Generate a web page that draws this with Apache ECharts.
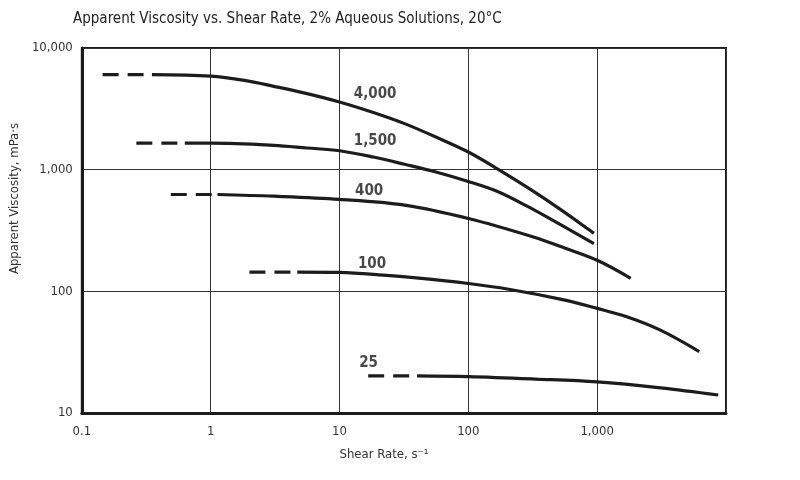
<!DOCTYPE html>
<html>
<head>
<meta charset="utf-8">
<script src="https://cdn.jsdelivr.net/npm/echarts@6/dist/echarts.min.js"></script>
<style>
    html, body { margin: 0; padding: 0; background: #fff; }
    #chart { width: 800px; height: 480px; }
</style>
</head>
<body>
<div id="chart"></div>
<script>
    // grades (mPa·s at 2%), with the dashed lead-in drawn flat up to the solid curve
    var grades = ['4,000', '1,500', '400', '100', '25'];
    var leadStart = [0.145, 0.265, 0.49, 2.0, 16.7];
    var leadLevel = [6050, 1650, 625, 144, 20.2];

    // solid curves: shear rate (s-1) / apparent viscosity (mPa·s)
    var rate4000 = [0.35, 1, 1.83, 3.1, 5.6, 10, 18.3, 32, 56, 100, 172, 310, 528, 944];
    var visc4000 = [6050, 5870, 5420, 4840, 4220, 3600, 2950, 2390, 1855, 1396, 1000, 678, 465, 300];
    var rate1500 = [0.63, 1, 3.1, 5.6, 10, 18.3, 32, 56, 100, 172, 293, 528, 944];
    var visc1500 = [1650, 1650, 1585, 1507, 1430, 1270, 1107, 957, 800, 656, 494, 350, 247];
    var rate400 = [1.13, 3.1, 10, 32, 100, 320, 528, 1000, 1820];
    var visc400 = [625, 605, 570, 511, 397, 280, 232, 180, 128];
    var rate100 = [4.7, 10, 21.8, 39.4, 100, 206, 528, 1000, 1720, 3100, 6200];
    var visc100 = [144, 143, 136, 129, 116, 104, 85.8, 72.4, 61.6, 48, 32];
    var rate25 = [40, 100, 330, 1000, 3100, 8710];
    var visc25 = [20.2, 19.9, 19.0, 18.0, 16.1, 14.05];

    // where the grade labels sit
    var labelRate = [18.9, 18.9, 17, 17.9, 16.8];
    var labelVisc = [4160, 1710, 665, 167, 25.5];

    var xTicks = { 0.1: '0.1', 1: '1', 10: '10', 100: '100', 1000: '1,000' };
    var yTicks = { 10: '10', 100: '100', 1000: '1,000', 10000: '10,000' };

    var FONT = "'Liberation Sans Narrow', 'DejaVu Sans Condensed', sans-serif";
    var INK = '#1c1c1c';

    var zip = function (xs, ys) {
        return xs.map(function (x, i) { return [x, ys[i]]; });
    };

    var curves = [
        zip(rate4000, visc4000),
        zip(rate1500, visc1500),
        zip(rate400, visc400),
        zip(rate100, visc100),
        zip(rate25, visc25)
    ];

    var series = [];
    curves.forEach(function (pts, i) {
        series.push({
            name: grades[i] + ' lead',
            type: 'line',
            data: [[leadStart[i], leadLevel[i]], [pts[0][0], leadLevel[i]]],
            symbol: 'none',
            silent: true,
            lineStyle: { color: INK, width: 3.2, type: [16, 9] }
        });
        series.push({
            name: grades[i],
            type: 'line',
            data: pts,
            smooth: 0.35,
            symbol: 'none',
            silent: true,
            lineStyle: { color: INK, width: 3.2 }
        });
    });

    series.push({
        type: 'scatter',
        symbolSize: 0,
        silent: true,
        data: grades.map(function (g, i) {
            return { name: g, value: [labelRate[i], labelVisc[i]] };
        }),
        label: {
            show: true,
            position: 'inside',
            formatter: '{b}',
            fontFamily: FONT,
            fontSize: 15,
            fontWeight: 'bold',
            color: '#1a1a1a'
        }
    });

    var myChart = echarts.init(document.getElementById('chart'));
    myChart.setOption({
        animation: false,
        backgroundColor: '#fff',
        title: {
            text: 'Apparent Viscosity vs. Shear Rate, 2% Aqueous Solutions, 20°C',
            left: 68,
            top: 7,
            textStyle: { fontFamily: FONT, fontSize: 15, fontWeight: 'normal', color: '#222' }
        },
        grid: {
            left: 76, right: 74, top: 48, bottom: 67,
            show: true,
            borderColor: INK,
            borderWidth: 2
        },
        xAxis: {
            type: 'log',
            logBase: 10,
            min: 0.1,
            max: 10000,
            name: 'Shear Rate, s⁻¹',
            nameLocation: 'middle',
            nameGap: 35,
            nameTextStyle: { fontFamily: FONT, fontSize: 13, color: '#333', padding: [0, 40, 0, 0] },
            axisLine: { lineStyle: { color: INK, width: 3 } },
            axisTick: { show: false },
            axisLabel: {
                fontFamily: FONT, fontSize: 13, color: '#333', margin: 12,
                formatter: function (v) { return xTicks[v] || ''; }
            },
            splitLine: { show: true, lineStyle: { color: '#333', width: 1 } }
        },
        yAxis: {
            type: 'log',
            logBase: 10,
            min: 10,
            max: 10000,
            name: 'Apparent Viscosity, mPa·s',
            nameLocation: 'middle',
            nameRotate: 90,
            nameGap: 52,
            nameTextStyle: { fontFamily: FONT, fontSize: 13, color: '#333', padding: [0, 0, 0, 64] },
            axisLine: { lineStyle: { color: INK, width: 3 } },
            axisTick: { show: false },
            axisLabel: {
                fontFamily: FONT, fontSize: 13, color: '#333', margin: 9,
                formatter: function (v) { return yTicks[v] || ''; }
            },
            splitLine: { show: true, lineStyle: { color: '#333', width: 1 } }
        },
        series: series
    });
</script>
</body>
</html>
